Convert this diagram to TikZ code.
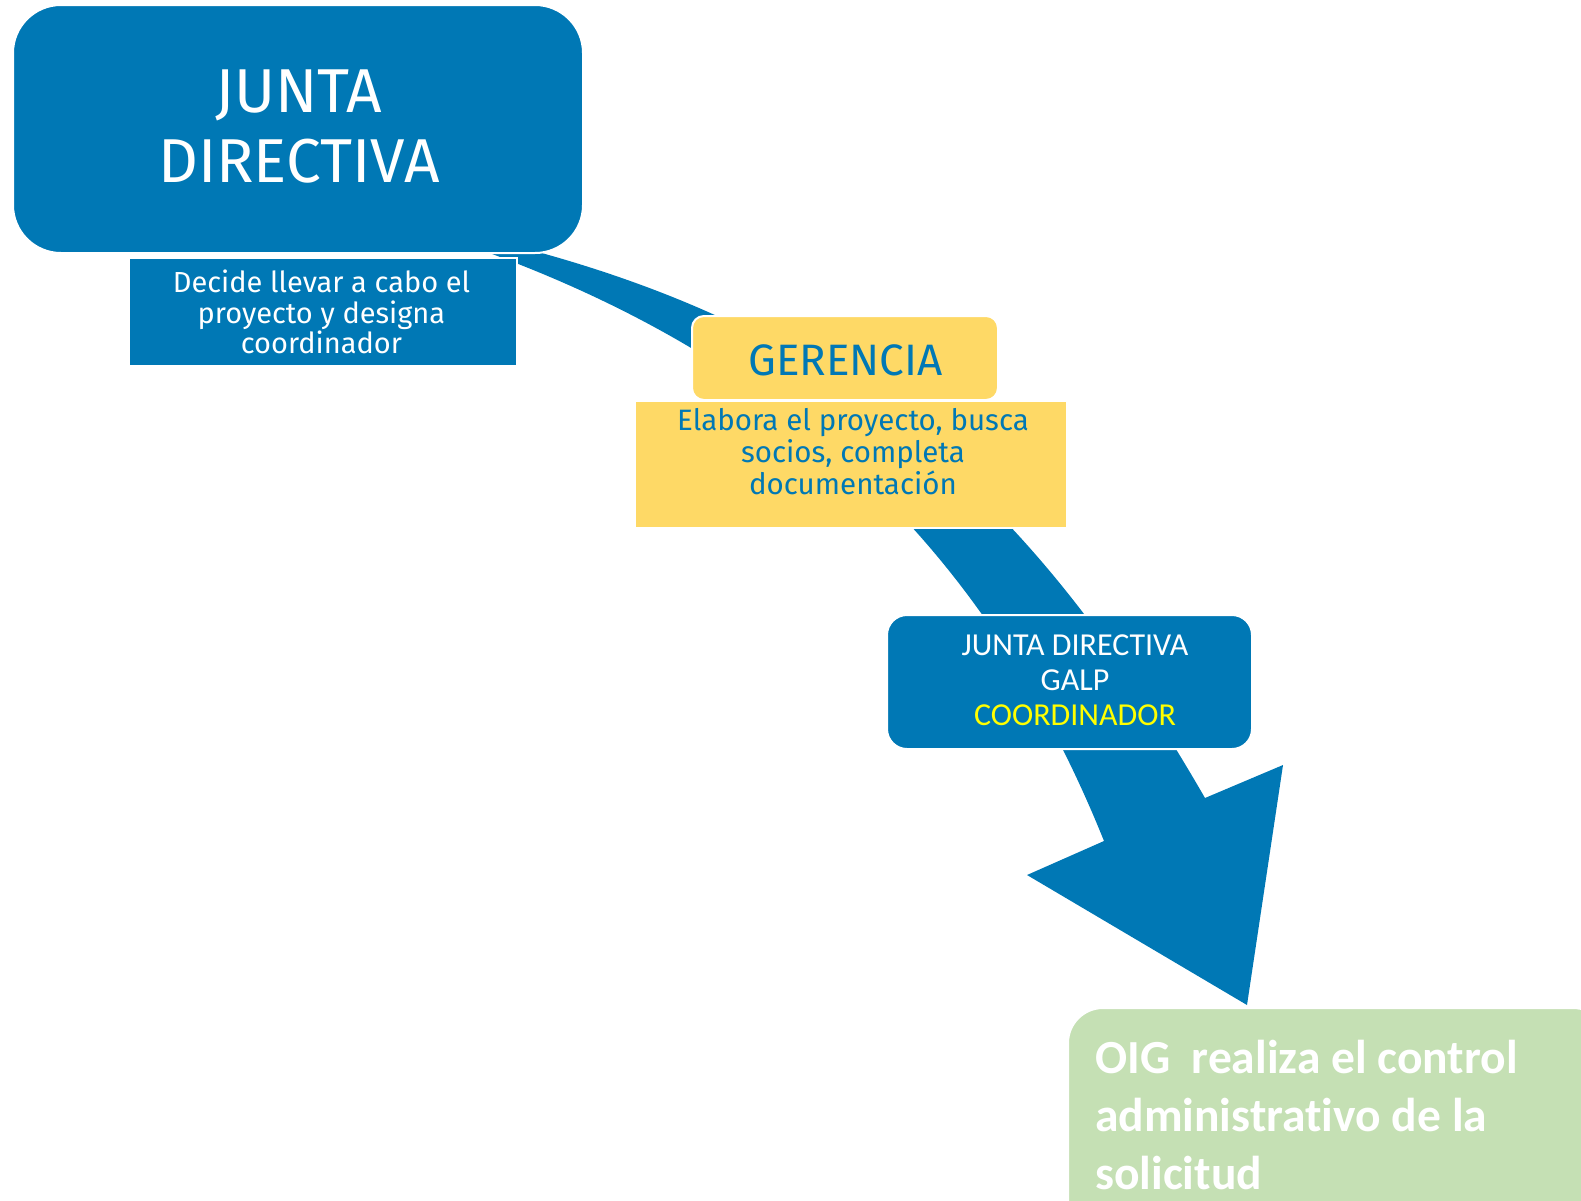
\documentclass[tikz,border=0pt]{standalone}
\usepackage{fontspec}
\setmainfont{Fira Sans}
\newfontfamily\calib[Ligatures={NoCommon,NoContextual}]{Carlito}
\definecolor{jdblue}{RGB}{0,120,181}
\definecolor{gyellow}{RGB}{254,217,102}
\definecolor{oiggreen}{RGB}{197,224,180}
\definecolor{coordyellow}{RGB}{255,255,0}
\tikzset{
  box/.style={draw=white, line width=2pt, inner sep=0pt},
  flat/.style={draw=white, line width=2pt, inner sep=0pt},
  txt/.style={inner sep=0pt, align=center},
}
\begin{document}
\begin{tikzpicture}[x=1pt,y=-1pt]
\useasboundingbox (0,0) rectangle (1581,1200);
\clip (0,0) rectangle (1581,1200);
% big curved block arrow
\fill[jdblue] (500,242) .. controls (845,328) and (1030,495) .. (1205,798)
  -- (1283,765) -- (1247,1005) -- (1027,875) -- (1104,841)
  .. controls (985,545) and (782,356) .. (470,246) -- cycle;
% boxes
\node[box, fill=jdblue, rounded corners=48pt, minimum width=570pt, minimum height=248pt] (jd) at (298,129) {};
\node[flat, fill=jdblue, minimum width=388pt, minimum height=108pt] (jdsub) at (323,312) {};
\node[box, fill=gyellow, rounded corners=12pt, minimum width=306pt, minimum height=84pt] (ger) at (845,358) {};
\node[flat, fill=gyellow, minimum width=432pt, minimum height=127pt] (gersub) at (851,464) {};
\node[box, fill=jdblue, rounded corners=20pt, minimum width=365pt, minimum height=134pt] (galp) at (1069.5,682) {};
\node[box, fill=oiggreen, rounded corners=35pt, minimum width=540pt, minimum height=240pt] (oig) at (1338,1128) {};
% texts
\node[txt, text=white, font=\fontsize{62}{70}\selectfont] (jdt) at (299,127) {JUNTA\\DIRECTIVA};
\node[txt, text=white, font=\fontsize{29}{30.5}\selectfont] (jdsubt) at (321.5,312) {Decide llevar a cabo el\\proyecto y designa\\coordinador};
\node[txt, text=jdblue, font=\fontsize{44}{48}\selectfont] (gert) at (845.5,360) {GERENCIA};
\node[txt, text=jdblue, font=\fontsize{29.5}{32}\selectfont] (gersubt) at (853,452) {Elabora el proyecto, busca\\socios, completa\\documentación};
\node[txt, text=white, font=\calib\fontsize{32}{35}\selectfont] (galpt) at (1075,680) {JUNTA DIRECTIVA\\GALP\\\textcolor{coordyellow}{COORDINADOR}};
\node[inner sep=0pt, align=left, anchor=west, text=white, font=\calib\bfseries\fontsize{47.5}{58}\selectfont] (oigt) at (1095,1115) {OIG~ realiza el control\\administrativo de la\\solicitud};
\end{tikzpicture}
\end{document}
